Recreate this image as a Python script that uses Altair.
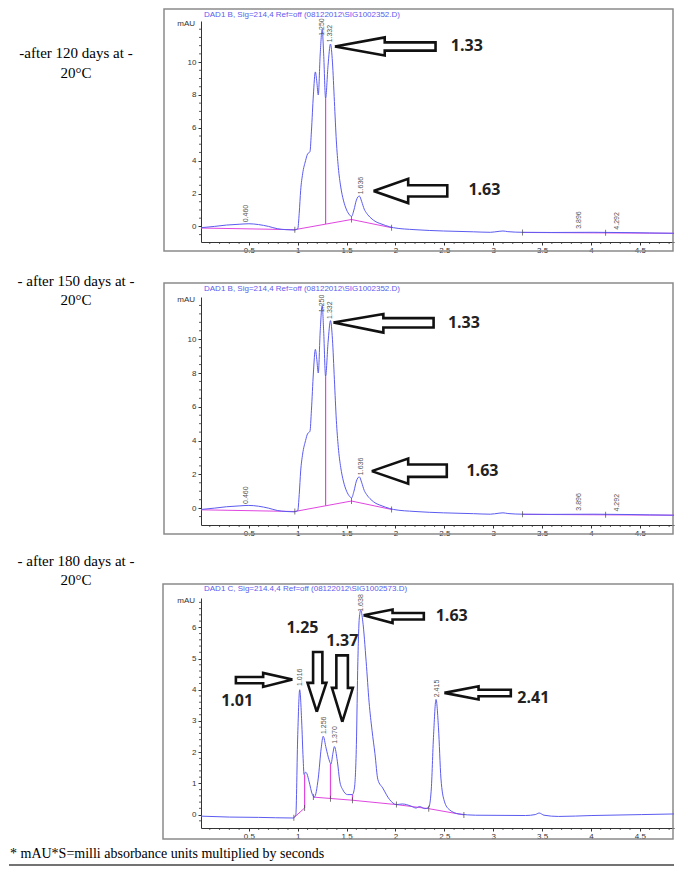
import altair as alt
import pandas as pd

# ---------------- texts ----------------
side_labels = ["-after 120 days at -\n20°C",
               "- after 150 days at -\n20°C",
               "- after 180 days at -\n20°C"]
titles = ["DAD1 B, Sig=214,4 Ref=off (08122012\\SIG1002352.D)",
          "DAD1 B, Sig=214,4 Ref=off (08122012\\SIG1002352.D)",
          "DAD1 C, Sig=214.4,4 Ref=off (08122012\\SIG1002573.D)"]
footnote = "* mAU*S=milli absorbance units multiplied by seconds"

x_ticks = [0.5, 1, 1.5, 2, 2.5, 3, 3.5, 4, 4.5]
x_minor = [0.1, 0.2, 0.3, 0.4, 0.6, 0.7, 0.8, 0.9, 1.1, 1.2, 1.3, 1.4, 1.6, 1.7, 1.8, 1.9,
           2.1, 2.2, 2.3, 2.4, 2.6, 2.7, 2.8, 2.9, 3.1, 3.2, 3.3, 3.4, 3.6, 3.7, 3.8, 3.9,
           4.1, 4.2, 4.3, 4.4, 4.6, 4.7, 4.8]
ab_yticks = [0, 2, 4, 6, 8, 10]
ab_yminor = [-0.5, 0.5, 1, 1.5, 2.5, 3, 3.5, 4.5, 5, 5.5, 6.5, 7, 7.5, 8.5, 9, 9.5, 10.5, 11, 11.5, 12]
c_yticks = [0, 1, 2, 3, 4, 5, 6]
c_yminor = [-0.2, 0.2, 0.4, 0.6, 0.8, 1.2, 1.4, 1.6, 1.8, 2.2, 2.4, 2.6, 2.8, 3.2, 3.4, 3.6,
            3.8, 4.2, 4.4, 4.6, 4.8, 5.2, 5.4, 5.6, 5.8, 6.2, 6.4, 6.6, 6.8]

# ---------------- chromatogram 08122012\SIG1002352.D (120 and 150 days) ----------------
ab_t = [0.01, 0.15, 0.27, 0.40, 0.50, 0.60, 0.70, 0.79, 0.88, 0.96,
        1.00, 1.015, 1.03, 1.05, 1.08, 1.10, 1.125, 1.14, 1.16, 1.18,
        1.195, 1.21, 1.23, 1.25, 1.265, 1.285, 1.31, 1.335, 1.355, 1.375,
        1.395, 1.415, 1.44, 1.467, 1.50, 1.53, 1.55, 1.575, 1.60, 1.63,
        1.655, 1.68, 1.705, 1.75, 1.80, 1.84, 1.90, 1.98, 2.2, 2.49,
        2.8, 2.97, 3.06, 3.10, 3.15, 3.3, 3.6, 4.03, 4.4, 4.6, 4.85]
ab_v = [-0.08, 0.0, 0.08, 0.13, 0.16, 0.11, 0.0, -0.14, -0.2, -0.22,
        -0.15, 0.8, 2.2, 3.2, 4.0, 4.4, 4.55, 5.8, 8.0, 9.4,
        8.8, 8.0, 10.5, 12.0, 10.5, 7.8, 9.8, 11.1, 10.0, 7.6,
        5.2, 3.6, 2.4, 1.6, 1.0, 0.7, 0.6, 1.0, 1.6, 1.85,
        1.5, 1.05, 0.8, 0.5, 0.28, 0.18, 0.05, -0.08, -0.2, -0.28,
        -0.33, -0.36, -0.3, -0.28, -0.32, -0.36, -0.37, -0.36, -0.38, -0.4, -0.42]
ab_base_t = [0.01, 0.97, 1.55, 1.96, 3.3, 4.85]
ab_base_v = [-0.1, -0.2, 0.42, -0.08, -0.37, -0.42]
ab_base_s = [0, 0, 0, 0, 1, 1]
ab_drop_t = [1.285]
ab_drop_lo = [0.14]
ab_drop_hi = [7.8]
ab_mark_t = [0.97, 1.55, 1.96, 3.3, 4.15]
ab_mark_v = [-0.2, 0.42, -0.08, -0.37, -0.39]
ab_pk_txt = ["0.460", "1.250", "1.332", "1.636", "3.896", "4.292"]
ab_pk_t = [0.475, 1.25, 1.335, 1.645, 3.88, 4.27]
ab_pk_v = [0.25, 11.6, 11.2, 1.95, -0.15, -0.2]

# arrows (outline vertices) and bold labels, panel 1
a1_ar_t = [1.38, 1.89, 1.89, 2.41, 2.41, 1.89, 1.89, 1.38,
           1.775, 2.13, 2.13, 2.53, 2.53, 2.13, 2.13, 1.775]
a1_ar_v = [10.95, 11.5, 11.2, 11.2, 10.7, 10.7, 10.4, 10.95,
           2.15, 2.9, 2.5, 2.5, 1.82, 1.82, 1.42, 2.15]
a1_ar_id = [0] * 8 + [1] * 8
a1_lb_txt = ["1.33", "1.63"]
a1_lb_t = [2.73, 2.91]
a1_lb_v = [10.95, 2.2]

# panel 2
a2_ar_t = [1.365, 1.876, 1.876, 2.39, 2.39, 1.876, 1.876, 1.365,
           1.757, 2.13, 2.13, 2.525, 2.525, 2.13, 2.13, 1.757]
a2_ar_v = [10.99, 11.49, 11.25, 11.25, 10.69, 10.69, 10.39, 10.99,
           2.19, 2.94, 2.58, 2.58, 1.85, 1.85, 1.45, 2.19]
a2_ar_id = [0] * 8 + [1] * 8
a2_lb_txt = ["1.33", "1.63"]
a2_lb_t = [2.70, 2.89]
a2_lb_v = [10.95, 2.2]

# ---------------- chromatogram 08122012\SIG1002573.D (180 days) ----------------
c_t = [0.01, 0.3, 0.6, 0.95, 0.98, 1.00, 1.02, 1.04, 1.055, 1.065,
       1.08, 1.095, 1.115, 1.15, 1.17, 1.21, 1.24, 1.26, 1.29, 1.32,
       1.34, 1.36, 1.375, 1.405, 1.43, 1.46, 1.51, 1.56, 1.58, 1.60,
       1.615, 1.63, 1.645, 1.665, 1.70, 1.73, 1.76, 1.79, 1.82, 1.87,
       1.94, 2.01, 2.07, 2.16, 2.21, 2.245, 2.30, 2.34, 2.365, 2.39,
       2.415, 2.44, 2.465, 2.50, 2.55, 2.65, 2.82, 3.33, 3.43, 3.47,
       3.52, 3.67, 4.01, 4.52, 4.85]
c_v = [-0.05, -0.08, -0.09, -0.11, -0.02, 2.56, 4.0, 3.0, 1.8, 1.28,
       1.36, 1.3, 1.07, 0.64, 0.56, 1.17, 2.13, 2.51, 2.13, 1.76,
       1.62, 1.97, 2.18, 1.71, 1.07, 0.8, 0.64, 0.64, 0.85, 2.24,
       4.9, 6.3, 6.55, 6.2, 4.9, 3.6, 2.7, 1.95, 1.12, 0.85,
       0.48, 0.32, 0.34, 0.27, 0.21, 0.26, 0.19, 0.23, 0.75, 2.56,
       3.69, 2.78, 1.17, 0.43, 0.16, 0.02, -0.02, -0.03, 0.0, 0.05,
       -0.02, -0.06, -0.03, 0.0, 0.02]
c_base_t = [0.96, 1.07, 1.16, 1.56, 2.01, 2.34, 2.70]
c_base_v = [-0.1, 0.21, 0.56, 0.46, 0.32, 0.19, -0.01]
c_base_s = [0, 0, 1, 1, 1, 1, 1]
c_drop_t = [1.07, 1.335, 1.56]
c_drop_lo = [0.21, 0.51, 0.46]
c_drop_hi = [1.28, 1.62, 0.64]
c_mark_t = [0.96, 1.07, 1.16, 1.335, 1.56, 2.01, 2.34, 2.70]
c_mark_v = [-0.1, 0.21, 0.56, 0.51, 0.46, 0.32, 0.19, -0.01]
c_pk_txt = ["1.016", "1.256", "1.370", "1.638", "2.415"]
c_pk_t = [1.02, 1.265, 1.378, 1.65, 2.42]
c_pk_v = [4.12, 2.58, 2.27, 6.5, 3.76]
c_ar_t = [0.946, 0.646, 0.646, 0.367, 0.367, 0.646, 0.646, 0.946,
          1.195, 1.10, 1.157, 1.157, 1.252, 1.252, 1.293, 1.195,
          1.456, 1.35, 1.395, 1.395, 1.513, 1.513, 1.564, 1.456,
          1.673, 1.97, 1.97, 2.29, 2.29, 1.97, 1.97, 1.673,
          2.5, 2.85, 2.85, 3.18, 3.18, 2.85, 2.85, 2.5]
c_ar_v = [4.33, 4.54, 4.41, 4.41, 4.21, 4.21, 4.09, 4.33,
          3.29, 4.22, 4.22, 5.21, 5.21, 4.22, 4.22, 3.29,
          2.97, 4.06, 4.06, 5.1, 5.1, 4.06, 4.06, 2.97,
          6.39, 6.57, 6.46, 6.46, 6.25, 6.25, 6.14, 6.39,
          3.9, 4.11, 4.0, 4.0, 3.79, 3.79, 3.69, 3.9]
c_ar_id = [0] * 8 + [1] * 8 + [2] * 8 + [3] * 8 + [4] * 8
c_lb_txt = ["1.01", "1.25", "1.37", "1.63", "2.41"]
c_lb_t = [0.38, 1.048, 1.456, 2.575, 3.41]
c_lb_v = [3.63, 5.98, 5.55, 6.36, 3.74]

# ---------------- styling ----------------
W = 473
BLUE = "#5b5bf0"
PINK = "#e046e0"
AXC = "#333333"
SANS = "Liberation Sans"
SERIF = "Times New Roman, Liberation Serif, DejaVu Serif, serif"
ONE = pd.DataFrame({"a": [0]})


def panel(h, ydom, yticks, yminor, tr_t, tr_v, b_t, b_v, b_s, d_t, d_lo, d_hi,
          m_t, m_v, pk_t, pk_v, pk_txt, ar_t, ar_v, ar_id, lb_t, lb_v, lb_txt,
          title, frame, title_y, side=None, side_y=None, footer=False):
    xsc = alt.Scale(domain=[0.01, 4.85], nice=False, zero=False)
    ysc = alt.Scale(domain=ydom, nice=False, zero=False)
    xax = alt.Axis(values=x_ticks, format="~g", title=None, grid=False, tickSize=3,
                   labelFontSize=8, labelFont=SANS, labelColor=AXC, labelPadding=1,
                   domainColor=AXC, tickColor=AXC, labelFlush=False)
    yax = alt.Axis(values=yticks, format="~g", title=None, grid=False, tickSize=3,
                   labelFontSize=8, labelFont=SANS, labelColor=AXC, labelPadding=2,
                   domainColor=AXC, tickColor=AXC)

    def X(f="t"):
        return alt.X(f + ":Q", scale=xsc, axis=xax)

    def Y(f="v"):
        return alt.Y(f + ":Q", scale=ysc, axis=yax)

    layers = []
    # frame box
    layers.append(alt.Chart(ONE).mark_rect(fillOpacity=0, stroke="#8a8a8a", strokeWidth=1.5).encode(
        x=alt.value(frame[0]), x2=alt.value(frame[1]), y=alt.value(frame[2]), y2=alt.value(frame[3])))
    # minor ticks
    layers.append(alt.Chart(pd.DataFrame({"t": x_minor})).mark_rule(color=AXC, strokeWidth=0.8).encode(
        x=X(), y=alt.value(h), y2=alt.value(h + 2)))
    layers.append(alt.Chart(pd.DataFrame({"v": yminor})).mark_rule(color=AXC, strokeWidth=0.8).encode(
        y=Y(), x=alt.value(0), x2=alt.value(-2)))
    # integration baseline
    layers.append(alt.Chart(pd.DataFrame({"t": b_t, "v": b_v, "s": b_s})).mark_line(
        color=PINK, strokeWidth=1).encode(x=X(), y=Y(), detail="s:N"))
    layers.append(alt.Chart(pd.DataFrame({"t": d_t, "lo": d_lo, "hi": d_hi})).mark_rule(
        color=PINK, strokeWidth=1.2).encode(x=X(), y=Y("lo"), y2="hi:Q"))
    # signal trace
    layers.append(alt.Chart(pd.DataFrame({"t": tr_t, "v": tr_v})).mark_line(
        color=BLUE, strokeWidth=1, interpolate="monotone").encode(x=X(), y=Y()))
    # integration markers
    layers.append(alt.Chart(pd.DataFrame({"t": m_t, "v": m_v})).mark_tick(
        orient="vertical", size=6, thickness=1, color="#444").encode(x=X(), y=Y()))
    # peak labels
    layers.append(alt.Chart(pd.DataFrame({"t": pk_t, "v": pk_v, "txt": pk_txt})).mark_text(
        angle=270, align="left", baseline="middle", font=SANS, fontSize=7, color="#555").encode(
        x=X(), y=Y(), text="txt:N"))
    # arrows
    layers.append(alt.Chart(pd.DataFrame({"t": ar_t, "v": ar_v, "id": ar_id,
                                          "o": list(range(len(ar_t)))})).mark_line(
        color="#111", strokeWidth=2.6, strokeJoin="miter").encode(
        x=X(), y=Y(), detail="id:N", order="o:Q"))
    layers.append(alt.Chart(pd.DataFrame({"t": lb_t, "v": lb_v, "txt": lb_txt})).mark_text(
        font="Open Sans", fontWeight="bold", fontSize=16, color="#222", align="center",
        baseline="middle").encode(x=X(), y=Y(), text="txt:N"))
    # titles
    layers.append(alt.Chart(pd.DataFrame({"txt": [title]})).mark_text(
        align="left", baseline="middle", font=SANS, fontSize=8, color=BLUE).encode(
        text="txt:N", x=alt.value(3), y=alt.value(title_y)))
    layers.append(alt.Chart(pd.DataFrame({"txt": ["mAU"]})).mark_text(
        align="right", baseline="middle", font=SANS, fontSize=8, color=AXC).encode(
        text="txt:N", x=alt.value(-6), y=alt.value(3)))
    if side is not None:
        layers.append(alt.Chart(pd.DataFrame({"txt": [side]})).mark_text(
            align="center", baseline="middle", font=SERIF, fontSize=15,
            color="#000", lineBreak="\n", lineHeight=20).encode(
            text="txt:N", x=alt.value(-125), y=alt.value(side_y)))
        # layout extent (top-left of page)
        layers.append(alt.Chart(ONE).mark_rect(opacity=0).encode(
            x=alt.value(-192), x2=alt.value(W), y=alt.value(-12), y2=alt.value(0)))
    if footer:
        layers.append(alt.Chart(pd.DataFrame({"txt": [footnote]})).mark_text(
            align="left", baseline="middle", font=SERIF, fontSize=14,
            color="#000").encode(text="txt:N", x=alt.value(-191), y=alt.value(256)))
        layers.append(alt.Chart(ONE).mark_rule(color="#444", strokeWidth=1.5).encode(
            x=alt.value(-192), x2=alt.value(W), y=alt.value(267)))
    return alt.layer(*layers).properties(width=W, height=h)


def spacer(h, txt, ty):
    return alt.Chart(pd.DataFrame({"txt": [txt]})).mark_text(
        align="center", baseline="middle", font=SERIF, fontSize=15,
        color="#000", lineBreak="\n", lineHeight=19).encode(
        text="txt:N", x=alt.value(-125), y=alt.value(ty)).properties(width=W, height=h)


p1 = panel(221, [-0.95, 12.5], ab_yticks, ab_yminor, ab_t, ab_v, ab_base_t, ab_base_v, ab_base_s,
           ab_drop_t, ab_drop_lo, ab_drop_hi, ab_mark_t, ab_mark_v, ab_pk_t, ab_pk_v, ab_pk_txt,
           a1_ar_t, a1_ar_v, a1_ar_id, a1_lb_t, a1_lb_v, a1_lb_txt, titles[0],
           (-37, 472, -12, 230), -6, side=side_labels[0], side_y=32)
s1 = spacer(55, side_labels[1], 38.5)
p2 = panel(228, [-1.0, 12.5], ab_yticks, ab_yminor, ab_t, ab_v, ab_base_t, ab_base_v, ab_base_s,
           ab_drop_t, ab_drop_lo, ab_drop_hi, ab_mark_t, ab_mark_v, ab_pk_t, ab_pk_v, ab_pk_txt,
           a2_ar_t, a2_ar_v, a2_ar_id, a2_lb_t, a2_lb_v, a2_lb_txt, titles[1],
           (-37, 472, -14, 237), -8)
s2 = spacer(73, side_labels[2], 35.5)
p3 = panel(230, [-0.43, 6.94], c_yticks, c_yminor, c_t, c_v, c_base_t, c_base_v, c_base_s,
           c_drop_t, c_drop_lo, c_drop_hi, c_mark_t, c_mark_v, c_pk_t, c_pk_v, c_pk_txt,
           c_ar_t, c_ar_v, c_ar_id, c_lb_t, c_lb_v, c_lb_txt, titles[2],
           (-38, 472, -14, 241), -9, footer=True)

chart = alt.vconcat(p1, s1, p2, s2, p3, spacing=0, bounds="flush").properties(
    padding=0, background="white"
).configure_view(stroke=None)

chart.save("out.html", embed_options={"renderer": "svg", "actions": False})
